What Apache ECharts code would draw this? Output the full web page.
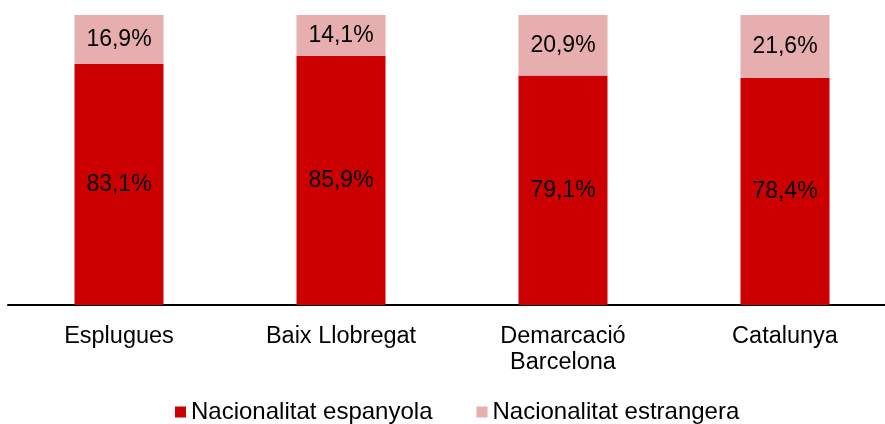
<!DOCTYPE html>
<html>
<head>
<meta charset="utf-8">
<style>
  html, body { margin: 0; padding: 0; background: #fff; overflow: hidden; }
  #chart { width: 896px; height: 424px; }
</style>
<script src="https://cdn.jsdelivr.net/npm/echarts@6/dist/echarts.min.js"></script>
</head>
<body>
<div id="chart"></div>
<script>
var categories = ['Esplugues', 'Baix Llobregat', 'Demarcació\nBarcelona', 'Catalunya'];
var seriesNames = ['Nacionalitat espanyola', 'Nacionalitat estrangera'];
var espanyola = [83.1, 85.9, 79.1, 78.4];
var estrangera = [16.9, 14.1, 20.9, 21.6];

var fmt = function (p) {
  return p.value.toFixed(1).replace('.', ',') + '%';
};

var myChart = echarts.init(document.getElementById('chart'));
var option = {
  animation: false,
  textStyle: { fontFamily: 'Liberation Sans, Arial, sans-serif' },
  grid: { left: 8, top: 15, right: 0, bottom: 119 },
  legend: {
    top: 395,
    left: 170,
    itemWidth: 11,
    itemHeight: 11,
    itemGap: 44,
    icon: 'rect',
    textStyle: { fontSize: 24, color: '#000' },
    data: seriesNames
  },
  xAxis: {
    type: 'category',
    data: categories,
    axisLine: { lineStyle: { color: '#000', width: 2 } },
    axisTick: { show: false },
    axisLabel: { fontSize: 23.5, color: '#000', margin: 19, lineHeight: 26 }
  },
  yAxis: {
    type: 'value',
    min: 0,
    max: 100,
    show: false
  },
  series: [{
    name: seriesNames[0],
    type: 'bar',
    stack: 'total',
    barWidth: 89,
    data: espanyola,
    itemStyle: { color: '#cc0000' },
    label: { show: true, position: 'inside', fontSize: 23, color: '#000', formatter: fmt }
  }, {
    name: seriesNames[1],
    type: 'bar',
    stack: 'total',
    barWidth: 89,
    data: estrangera,
    itemStyle: { color: '#e6aeae' },
    label: { show: true, position: 'inside', fontSize: 23, color: '#000', formatter: fmt }
  }]
};
myChart.setOption(option);
</script>
</body>
</html>
